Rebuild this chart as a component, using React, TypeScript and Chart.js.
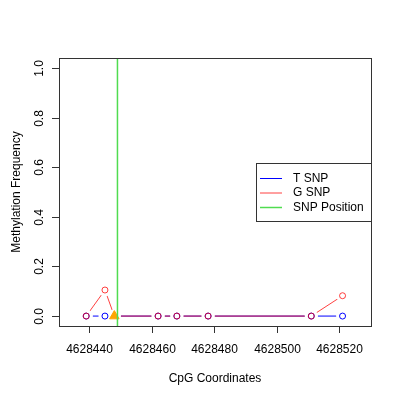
import { Chart, registerables } from "chart.js";
import { useEffect, useRef } from "react";

Chart.register(...registerables);

// CpG positions and methylation values
const cpgCoords = [4628439, 4628445, 4628448, 4628462, 4628468, 4628478, 4628511, 4628521];
const tSnp = [0, 0, 0, 0, 0, 0, 0, 0];
const gSnp = [0, 0.105, 0, 0, 0, 0, 0, 0.082];
const snpMarker = [4628448];
const snpPosition = 4628449;
const xTicks = [4628440, 4628460, 4628480, 4628500, 4628520];
const yTicks = [0, 0.2, 0.4, 0.6, 0.8, 1.0];
const legendLabels = ["T SNP", "G SNP", "SNP Position"];

const FONT = "12px 'Liberation Sans', Arial, sans-serif";
const BLUE = "rgb(0,0,255)";
const RED = "rgba(255,0,0,0.75)";
const GREEN = "rgb(80,220,80)";

const tPoints = cpgCoords.map((c, i) => ({ x: c, y: tSnp[i] }));
const gPoints = cpgCoords.map((c, i) => ({ x: c, y: gSnp[i] }));

// the point at the SNP itself carries no circle, the triangle marks it
const radiusFor = (ctx: any) => (snpMarker.includes(cpgCoords[ctx.dataIndex]) ? 0 : 3);

const rFrame = {
  id: "rFrame",
  afterDatasetsDraw(chart: any) {
    const { ctx, chartArea: a, scales } = chart;
    const x = scales.x;
    const y = scales.y;
    ctx.save();
    ctx.lineWidth = 1;

    // box
    ctx.strokeStyle = "#333";
    ctx.strokeRect(a.left + 0.5, a.top + 0.5, a.right - a.left, a.bottom - a.top);

    ctx.fillStyle = "#000";
    ctx.font = FONT;

    // x axis
    ctx.textAlign = "center";
    ctx.textBaseline = "middle";
    xTicks.forEach((t) => {
      const px = Math.round(x.getPixelForValue(t)) + 0.5;
      ctx.beginPath();
      ctx.moveTo(px, a.bottom);
      ctx.lineTo(px, a.bottom + 7);
      ctx.stroke();
      ctx.fillText(String(t), px, 350);
    });
    ctx.fillText("CpG Coordinates", (a.left + a.right) / 2, 379);

    // y axis
    yTicks.forEach((t) => {
      const py = Math.round(y.getPixelForValue(t)) + 0.5;
      ctx.beginPath();
      ctx.moveTo(a.left, py);
      ctx.lineTo(a.left - 7, py);
      ctx.stroke();
      ctx.save();
      ctx.translate(40, py);
      ctx.rotate(-Math.PI / 2);
      ctx.fillText(t.toFixed(1), 0, 0);
      ctx.restore();
    });
    ctx.save();
    ctx.translate(17, (a.top + a.bottom) / 2);
    ctx.rotate(-Math.PI / 2);
    ctx.fillText("Methylation Frequency", 0, 0);
    ctx.restore();

    // legend
    ctx.strokeStyle = "#333";
    ctx.strokeRect(256.5, 163.5, a.right - 256, 58);
    const colors = [BLUE, RED, GREEN];
    ctx.textAlign = "left";
    legendLabels.forEach((label, i) => {
      const ly = 178.5 + i * 14.5;
      ctx.strokeStyle = colors[i];
      ctx.lineWidth = i === 2 ? 1.5 : 1;
      ctx.beginPath();
      ctx.moveTo(260, ly);
      ctx.lineTo(282, ly);
      ctx.stroke();
      ctx.fillStyle = "#000";
      ctx.fillText(label, 293, ly);
    });

    ctx.restore();
  },
};

function MethylationChart() {
  const chartRef = useRef<HTMLCanvasElement>(null);
  const chartInstance = useRef<Chart | null>(null);

  useEffect(() => {
    if (chartInstance.current) chartInstance.current.destroy();
    const ctx = chartRef.current!.getContext("2d")!;

    const circles = (data: any[], color: string) => ({
      data,
      showLine: false,
      borderColor: color,
      backgroundColor: "transparent",
      pointRadius: radiusFor,
      pointBorderWidth: 1,
    });
    const line = (data: any[], color: string) => ({
      data,
      borderColor: color,
      backgroundColor: "transparent",
      borderWidth: 1,
      pointRadius: 0,
    });

    // index 0 is drawn on top
    chartInstance.current = new Chart(ctx, {
      type: "line",
      data: {
        datasets: [
          // SNP position, a vertical line over the whole y range
          {
            data: [
              { x: snpPosition, y: -0.04 },
              { x: snpPosition, y: 1.04 },
            ],
            borderColor: GREEN,
            borderWidth: 1.5,
            pointRadius: 0,
          },
          {
            data: snpMarker.map((c) => ({ x: c, y: 0 })),
            showLine: false,
            pointStyle: "triangle",
            pointRadius: 5.5,
            backgroundColor: "#FFA500",
            borderColor: "#FFA500",
            borderWidth: 1,
          },
          circles(gPoints, RED),
          circles(tPoints, BLUE),
          // white discs leave the gaps round each point, as R's type = "b" does
          {
            data: [...tPoints, ...gPoints],
            showLine: false,
            pointRadius: 6.5,
            pointBorderWidth: 0,
            backgroundColor: "#fff",
            borderColor: "#fff",
          },
          line(gPoints, RED),
          line(tPoints, BLUE),
        ],
      },
      options: {
        animation: false,
        responsive: false,
        layout: { padding: { left: 59, top: 58, right: 29, bottom: 74 } },
        scales: {
          x: { type: "linear", min: 4628430.3, max: 4628530.1, display: false },
          y: { type: "linear", min: -0.04, max: 1.04, display: false },
        },
        plugins: { legend: { display: false }, tooltip: { enabled: false } },
      },
      plugins: [rFrame],
    });

    return () => {
      if (chartInstance.current) {
        chartInstance.current.destroy();
        chartInstance.current = null;
      }
    };
  }, []);

  return (
    <div style={{ position: "fixed", left: 0, top: 0, width: 400, height: 400, background: "#fff" }}>
      <canvas ref={chartRef} width={400} height={400} style={{ width: 400, height: 400 }} />
    </div>
  );
}

export default function App() {
  return <MethylationChart />;
}
